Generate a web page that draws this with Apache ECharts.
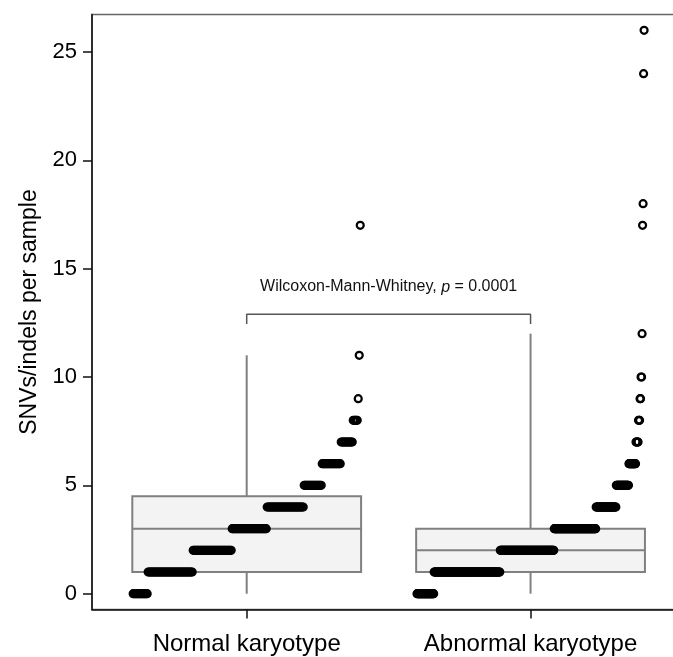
<!DOCTYPE html>
<html lang="en">
<head>
<meta charset="UTF-8">
<title>SNVs/indels per sample</title>
<script src="https://cdn.jsdelivr.net/npm/echarts@6/dist/echarts.min.js"></script>
<style>
  html, body { margin: 0; padding: 0; background: #fff; }
  #chart { width: 673px; height: 657px; }
</style>
</head>
<body>
<div id="chart"></div>
<script>
// categories on the x axis (placed at x = 1 and x = 2)
var categories = ['Normal karyotype', 'Abnormal karyotype'];

// number of samples at each SNV/indel count
var normalValues = [0, 1, 2, 3, 4, 5, 6, 7, 8, 9, 11, 17];
var normalCounts = [15, 45, 39, 35, 37, 18, 19, 12, 5, 1, 1, 1];
var abnormalValues = [0, 1, 2, 3, 4, 5, 6, 7, 8, 9, 10, 12, 17, 18, 24, 26];
var abnormalCounts = [34, 131, 107, 83, 40, 25, 14, 5, 3, 2, 2, 1, 1, 1, 1, 1];

// box: [lower whisker, Q1, median, Q3, upper whisker]
var normalBox = [0, 1, 3, 4.5, 11];
var abnormalBox = [0, 1, 2, 3, 12];

var yTicks = [0, 5, 10, 15, 20, 25];
var testLabel = 'Wilcoxon-Mann-Whitney, ';
var pValue = '0.0001';

var FONT = '"Liberation Sans", Arial, Helvetica, sans-serif';

// spread the sorted samples of one group across its box width, by rank
function stripPoints(values, counts, center) {
  var n = counts.reduce(function (a, b) { return a + b; }, 0);
  var pts = [];
  var rank = 0;
  values.forEach(function (v, k) {
    for (var j = 0; j < counts[k]; j++) {
      pts.push([center - 0.4 + 0.8 * rank / (n - 1), v]);
      rank++;
    }
  });
  return pts;
}

var chart = echarts.init(document.getElementById('chart'), null, { renderer: 'canvas' });

var option = {
  animation: false,
  backgroundColor: '#fff',
  grid: {
    left: 92, top: 14.5, width: 589, height: 595,
    show: true, borderColor: '#666', borderWidth: 1.5,
    backgroundColor: 'transparent',
    outerBoundsMode: 'none', containLabel: false
  },
  xAxis: {
    type: 'value', min: 0.455, max: 2.53,
    axisLine: { onZero: false, lineStyle: { color: '#111', width: 1.5 } },
    axisTick: { customValues: [1, 2], length: 9, lineStyle: { color: '#111', width: 1.5 } },
    axisLabel: {
      customValues: [1, 2], margin: 23, fontSize: 24, color: '#000', fontFamily: FONT,
      formatter: function (v) { return categories[Math.round(v) - 1]; }
    },
    splitLine: { show: false }
  },
  yAxis: {
    type: 'value', min: -0.73, max: 26.73,
    name: 'SNVs/indels per sample', nameLocation: 'middle', nameGap: 51,
    nameTextStyle: { fontSize: 23, color: '#000', fontFamily: FONT },
    axisLine: { onZero: false, lineStyle: { color: '#111', width: 1.5 } },
    axisTick: { customValues: yTicks, length: 9, lineStyle: { color: '#111', width: 1.5 } },
    axisLabel: { customValues: yTicks, margin: 15, fontSize: 22, color: '#000', fontFamily: FONT },
    splitLine: { show: false }
  },
  series: [
    {
      type: 'custom',
      z: 1,
      data: [[1].concat(normalBox), [2].concat(abnormalBox)],
      renderItem: function (params, api) {
        var x = api.value(0);
        var lo = api.value(1), q1 = api.value(2), med = api.value(3), q3 = api.value(4), hi = api.value(5);
        var hw = 0.403;
        var tl = api.coord([x - hw, q3]);
        var br = api.coord([x + hw, q1]);
        var m1 = api.coord([x - hw, med]);
        var m2 = api.coord([x + hw, med]);
        var top = api.coord([x, hi]);
        var upq = api.coord([x, q3]);
        var bot = api.coord([x, lo]);
        var lowq = api.coord([x, q1]);
        var st = { stroke: '#808080', lineWidth: 2 };
        return {
          type: 'group',
          children: [
            { type: 'line', shape: { x1: upq[0], y1: upq[1], x2: top[0], y2: top[1] }, style: st },
            { type: 'line', shape: { x1: lowq[0], y1: lowq[1], x2: bot[0], y2: bot[1] }, style: st },
            { type: 'rect', shape: { x: tl[0], y: tl[1], width: br[0] - tl[0], height: br[1] - tl[1] },
              style: { fill: '#f3f3f3', stroke: '#808080', lineWidth: 2 } },
            { type: 'line', shape: { x1: m1[0], y1: m1[1], x2: m2[0], y2: m2[1] }, style: st }
          ]
        };
      }
    },
    {
      type: 'scatter', z: 3, silent: true,
      data: stripPoints(normalValues, normalCounts, 1),
      symbol: 'circle', symbolSize: 7,
      itemStyle: { color: 'transparent', borderColor: '#000', borderWidth: 2.2, opacity: 1 }
    },
    {
      type: 'scatter', z: 3, silent: true,
      data: stripPoints(abnormalValues, abnormalCounts, 2),
      symbol: 'circle', symbolSize: 7,
      itemStyle: { color: 'transparent', borderColor: '#000', borderWidth: 2.2, opacity: 1 }
    },
    {
      type: 'line', z: 2, silent: true,
      data: [[1, 12.45], [1, 12.9], [2, 12.9], [2, 12.45]],
      showSymbol: false, symbol: 'none',
      lineStyle: { color: '#555', width: 1.5 },
      markPoint: {
        symbol: 'circle', symbolSize: 0, silent: true,
        data: [{ coord: [1.5, 14.15] }],
        label: {
          show: true, position: 'inside', color: '#111', fontFamily: FONT, fontSize: 16,
          formatter: '{n|' + testLabel + '}{i|p}{n| = ' + pValue + '}',
          rich: {
            n: { fontSize: 16, fontFamily: FONT, color: '#111' },
            i: { fontSize: 16, fontFamily: FONT, fontStyle: 'italic', color: '#111' }
          }
        }
      }
    }
  ]
};

chart.setOption(option);
</script>
</body>
</html>
